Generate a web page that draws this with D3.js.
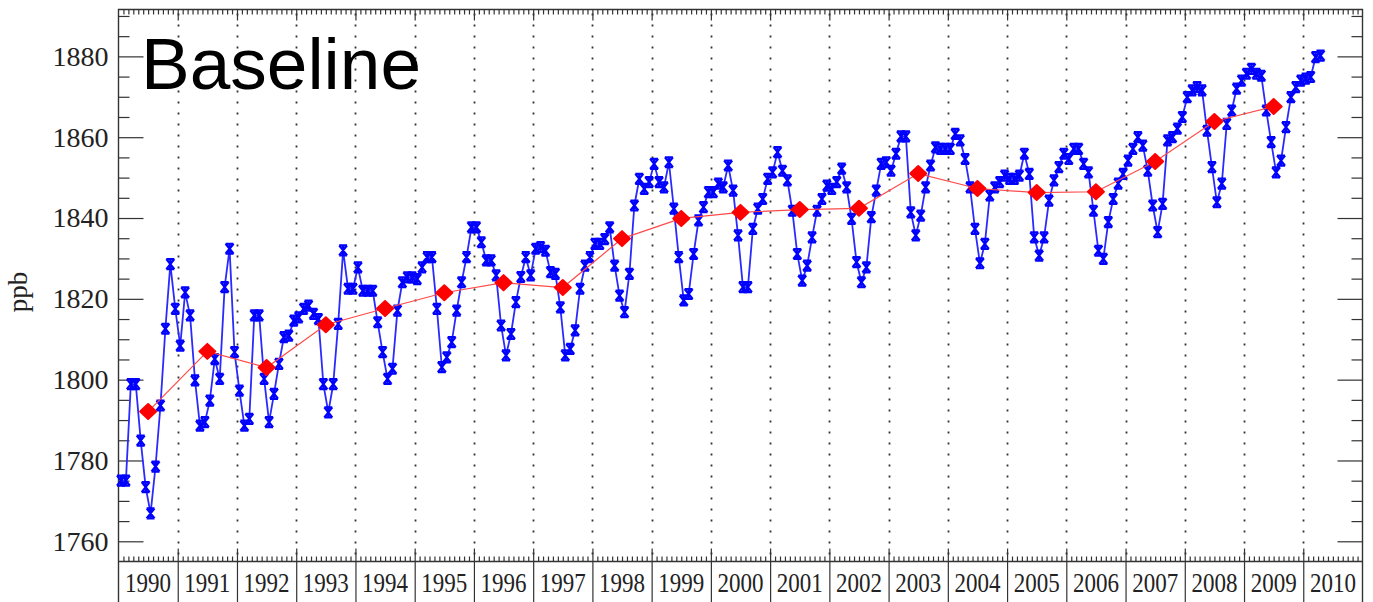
<!DOCTYPE html>
<html>
<head>
<meta charset="utf-8">
<script src="https://cdn.jsdelivr.net/npm/d3@7"></script>
<style>
  body { margin: 0; background: #fff; overflow: hidden; }
</style>
</head>
<body>
<div id="chart"></div>
<script>
// monthly CH4 (ppb), starting Jan 1990
const startYear = 1990;
const monthly = [
  1775.0, 1775.0, 1798.9, 1798.9, 1784.9, 1773.4, 1766.9, 1778.5, 1793.6, 1812.6, 1828.6, 1817.5,
  1808.4, 1821.6, 1815.9, 1799.8, 1788.6, 1789.5, 1794.8, 1805.1, 1800.2, 1822.9, 1832.4, 1806.8,
  1797.3, 1788.6, 1790.3, 1815.9, 1815.9, 1800.2, 1789.5, 1796.5, 1803.9, 1810.5, 1810.9, 1814.6,
  1815.4, 1817.5, 1818.3, 1816.3, 1815.0, 1798.9, 1791.9, 1798.9, 1813.8, 1832.0, 1822.5, 1822.5,
  1827.8, 1822.0, 1822.0, 1822.0, 1814.2, 1806.8, 1800.2, 1802.7, 1817.1, 1824.1, 1825.3, 1825.3,
  1824.9, 1827.8, 1830.3, 1830.3, 1817.5, 1803.1, 1805.5, 1809.3, 1817.1, 1824.1, 1830.3, 1837.7,
  1837.7, 1834.0, 1829.5, 1829.5, 1825.8, 1813.4, 1806.0, 1811.3, 1819.2, 1825.4, 1830.3, 1825.8,
  1832.4, 1832.8, 1831.9, 1826.6, 1826.2, 1817.9, 1806.0, 1807.6, 1812.2, 1822.5, 1828.2, 1830.3,
  1833.6, 1833.6, 1834.8, 1837.7, 1828.2, 1820.8, 1816.7, 1826.2, 1843.1, 1849.7, 1847.2, 1848.9,
  1853.4, 1848.9, 1847.6, 1853.8, 1842.3, 1830.3, 1819.6, 1821.2, 1831.1, 1839.4, 1842.7, 1846.4,
  1846.4, 1848.5, 1847.6, 1853.0, 1846.8, 1835.7, 1822.9, 1822.9, 1837.3, 1842.3, 1844.7, 1849.7,
  1851.3, 1856.3, 1851.7, 1849.3, 1841.8, 1831.1, 1824.5, 1828.2, 1835.2, 1841.8, 1844.7, 1848.0,
  1847.2, 1848.9, 1852.2, 1847.6, 1839.8, 1829.1, 1824.1, 1827.8, 1840.2, 1846.8, 1853.4, 1853.8,
  1851.7, 1855.9, 1860.2, 1860.2, 1841.4, 1835.7, 1840.6, 1847.6, 1853.0, 1857.5, 1857.1, 1857.1,
  1857.1, 1860.8, 1859.2, 1854.6, 1847.6, 1837.3, 1828.8, 1833.6, 1845.6, 1847.6, 1848.9, 1850.5,
  1849.7, 1849.7, 1850.5, 1855.9, 1850.9, 1835.2, 1830.7, 1835.2, 1844.3, 1849.3, 1852.6, 1855.9,
  1854.6, 1857.1, 1857.1, 1853.4, 1851.3, 1841.8, 1831.9, 1829.9, 1839.0, 1844.7, 1848.5, 1850.9,
  1854.2, 1857.1, 1860.0, 1857.9, 1851.7, 1843.1, 1836.5, 1843.5, 1859.2, 1860.0, 1862.1, 1865.0,
  1869.9, 1871.6, 1872.4, 1871.6, 1861.6, 1852.6, 1843.9, 1848.5, 1863.3, 1866.6, 1872.0, 1874.0,
  1875.7, 1876.9, 1875.7, 1875.2, 1866.6, 1858.8, 1851.3, 1854.2, 1862.5, 1869.9, 1872.4, 1874.0,
  1874.5, 1874.9, 1879.8, 1880.2
];
// annual means, plotted at mid-year
const annualMean = [1792.1, 1807.0, 1803.0, 1813.6, 1817.6, 1821.5, 1824.0, 1822.8, 1834.9, 1839.9,
                    1841.4, 1842.1, 1842.4, 1851.0, 1847.3, 1846.3, 1846.5, 1854.0, 1863.9, 1867.6];
const yearLabels = ["1990","1991","1992","1993","1994","1995","1996","1997","1998","1999","2000",
                    "2001","2002","2003","2004","2005","2006","2007","2008","2009","2010"];
const yTickLabels = [1760, 1780, 1800, 1820, 1840, 1860, 1880];
const yAxisTitle = "ppb";
const panelLabel = "Baseline";

const width = 1373, height = 602;
const plotL = 118.5, plotR = 1362.5, plotT = 9.5, plotB = 561.5;

const svg = d3.select("#chart").append("svg")
  .attr("width", width)
  .attr("height", height)
  .style("font-family", "'Liberation Serif', serif");

const x = d3.scaleLinear().domain([1990, 2011]).range([plotL, plotR]);
const y = d3.scaleLinear().domain([1755, 1891.6]).range([plotB, plotT]);

const years = d3.range(1991, 2011);
const months = d3.range(1990, 2011, 1 / 12).filter(m => Math.abs(m - Math.round(m)) > 1e-6);
const yMinor = d3.range(1760, 1891, 5).filter(v => yTickLabels.indexOf(v) < 0);

// dotted year grid
svg.append("g")
  .selectAll("line")
  .data(years)
  .enter()
  .append("line")
  .attr("x1", d => Math.round(x(d)) + 0.5).attr("x2", d => Math.round(x(d)) + 0.5)
  .attr("y1", plotT + 4).attr("y2", plotB)
  .attr("stroke", "#333")
  .attr("stroke-width", 1.8)
  .attr("stroke-dasharray", "2,9");

// axes helper: strip the domain path, style ticks
function style(g) {
  g.select(".domain").remove();
  g.selectAll(".tick line").attr("stroke", "#333").attr("stroke-width", 1.2);
  return g;
}

// left / right y ticks
svg.append("g").attr("transform", `translate(${plotL},0)`)
  .call(d3.axisLeft(y).tickValues(yTickLabels).tickSize(-25).tickPadding(10).tickFormat(d3.format("d")))
  .call(style)
  .selectAll("text")
  .attr("fill", "#222")
  .style("font-size", "28px")
  .style("font-family", "'Liberation Serif', serif");
svg.append("g").attr("transform", `translate(${plotL},0)`)
  .call(d3.axisLeft(y).tickValues(yMinor).tickSize(-11).tickFormat(""))
  .call(style);
svg.append("g").attr("transform", `translate(${plotR},0)`)
  .call(d3.axisRight(y).tickValues(yTickLabels).tickSize(-25).tickFormat(""))
  .call(style);
svg.append("g").attr("transform", `translate(${plotR},0)`)
  .call(d3.axisRight(y).tickValues(yMinor).tickSize(-11).tickFormat(""))
  .call(style);

// top / bottom time ticks
svg.append("g").attr("transform", `translate(0,${plotT})`)
  .call(d3.axisTop(x).tickValues(years).tickSize(-11).tickFormat(""))
  .call(style);
svg.append("g").attr("transform", `translate(0,${plotT})`)
  .call(d3.axisTop(x).tickValues(months).tickSize(-5).tickFormat(""))
  .call(style);
svg.append("g").attr("transform", `translate(0,${plotB})`)
  .call(d3.axisBottom(x).tickValues(years).tickSize(-13).tickFormat(""))
  .call(style);
svg.append("g").attr("transform", `translate(0,${plotB})`)
  .call(d3.axisBottom(x).tickValues(months).tickSize(-5).tickFormat(""))
  .call(style);
// separators in the label row
svg.append("g").attr("transform", `translate(0,${plotB})`)
  .call(d3.axisBottom(x).tickValues(years).tickSize(height - plotB).tickFormat(""))
  .call(style);

// frame
svg.append("path")
  .attr("d", `M${plotL},${height}V${plotT}H${plotR}V${height}M${plotL},${plotB}H${plotR}`)
  .attr("fill", "none")
  .attr("stroke", "#333")
  .attr("stroke-width", 1.4);

// year labels
svg.append("g")
  .selectAll("text")
  .data(yearLabels)
  .enter()
  .append("text")
  .attr("x", d => x(+d + 0.5))
  .attr("y", 592)
  .attr("text-anchor", "middle")
  .attr("textLength", 46)
  .attr("lengthAdjust", "spacingAndGlyphs")
  .attr("fill", "#222")
  .style("font-size", "28px")
  .text(d => d);

// y axis title
svg.append("text")
  .attr("transform", "translate(27,292) rotate(-90)")
  .attr("text-anchor", "middle")
  .attr("fill", "#222")
  .style("font-size", "27px")
  .text(yAxisTitle);

// monthly series
const tm = i => startYear + (i + 0.5) / 12;
svg.append("path")
  .datum(monthly)
  .attr("fill", "none")
  .attr("stroke", "#2a2aff")
  .attr("stroke-width", 1.8)
  .attr("d", d3.line().x((d, i) => x(tm(i))).y(d => y(d)));

const star = "M-4,-5L4,5M-4,5L4,-5M0,-5.5V5.5M-4,-5H4M-4,5H4";
svg.append("g")
  .selectAll("path")
  .data(monthly)
  .enter()
  .append("path")
  .attr("transform", (d, i) => `translate(${x(tm(i))},${y(d)})`)
  .attr("d", star)
  .attr("fill", "none")
  .attr("stroke", "#0000ff")
  .attr("stroke-width", 2.2);

// annual means
const ty = i => startYear + i + 0.5;
svg.append("path")
  .datum(annualMean)
  .attr("fill", "none")
  .attr("stroke", "#ff4a4a")
  .attr("stroke-width", 1.2)
  .attr("d", d3.line().x((d, i) => x(ty(i))).y(d => y(d)));

svg.append("g")
  .selectAll("path")
  .data(annualMean)
  .enter()
  .append("path")
  .attr("transform", (d, i) => `translate(${x(ty(i))},${y(d)})`)
  .attr("d", "M0,-7.5L8,0L0,7.5L-8,0Z")
  .attr("fill", "#ff0000")
  .attr("stroke", "#ff0000")
  .attr("stroke-width", 2)
  .attr("stroke-linejoin", "round");

// panel label
svg.append("text")
  .attr("x", 141)
  .attr("y", 89)
  .attr("fill", "#000")
  .style("font-family", "'Liberation Sans', Arial, sans-serif")
  .style("font-size", "73px")
  .text(panelLabel);
</script>
</body>
</html>
